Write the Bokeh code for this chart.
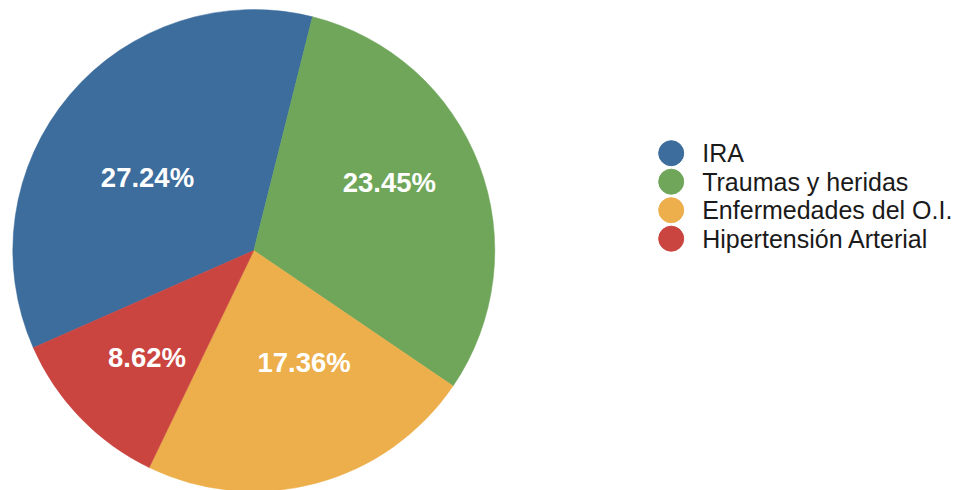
import math
from bokeh.plotting import figure
from bokeh.models import ColumnDataSource
from bokeh.core.properties import value
from bokeh.embed import file_html
from bokeh.resources import INLINE

# ---- data ----
categories = ["IRA", "Traumas y heridas", "Enfermedades del O.I.", "Hipertensión Arterial"]
percent_values = [27.24, 23.45, 17.36, 8.62]
slice_colors = ["#3c6d9c", "#6fa65a", "#edaf4b", "#ca4440"]

# ---- layout (pixels) ----
W, H = 959, 490
CX, CY = 253.3, H - 250.0
R = 241.0
START_DEG = 246.2          # clockwise from 12 o'clock, start of first slice
LABEL_R = 145.0
label_nudges = [(4.5, -20.6), (0.0, 16.5), (12.7, 28.5), (-2.6, -6.3)]

total = sum(percent_values)
starts, ends, lx, ly = [], [], [], []
acc = START_DEG
for i, v in enumerate(percent_values):
    span = v / total * 360.0
    a0, a1 = acc, acc + span
    starts.append(math.radians(90 - a0))
    ends.append(math.radians(90 - a1))
    mid = math.radians((a0 + a1) / 2)
    lx.append(CX + LABEL_R * math.sin(mid) + label_nudges[i][0])
    ly.append(CY + LABEL_R * math.cos(mid) + label_nudges[i][1])
    acc = a1

src = ColumnDataSource(dict(
    cat=categories, start=starts, end=ends, color=slice_colors,
    lx=lx, ly=ly, label=[f"{v:.2f}%" for v in percent_values],
))

p = figure(width=W, height=H, x_range=(0, W), y_range=(0, H),
           output_backend="svg", toolbar_location=None, min_border=0)
p.axis.visible = False
p.grid.visible = False
p.outline_line_color = None
p.background_fill_color = "white"

p.wedge(x=CX, y=CY, radius=R, start_angle="start", end_angle="end",
        direction="clock", fill_color="color", line_color="color",
        line_width=0.5, source=src)

p.text(x="lx", y="ly", text="label", source=src, text_color="white",
       text_font=value("Liberation Sans"), text_font_style="bold",
       text_font_size="27.5px", text_align="center", text_baseline="middle")

# legend
LEG_X, LEG_Y0, LEG_STEP = 670.7, H - 152.7, 28.5
leg_y = [LEG_Y0 - i * LEG_STEP for i in range(len(categories))]
leg_src = ColumnDataSource(dict(y=leg_y, cat=categories, color=slice_colors))
p.scatter(x=LEG_X, y="y", size=25, marker="circle", fill_color="color",
          line_color="color", source=leg_src)
p.text(x=LEG_X + 31, y="y", text="cat", source=leg_src, text_color="#1a1a1a",
       text_font=value("Liberation Sans"), text_font_size="25px",
       text_align="left", text_baseline="middle")

open("out.html", "w").write(file_html(p, INLINE))
